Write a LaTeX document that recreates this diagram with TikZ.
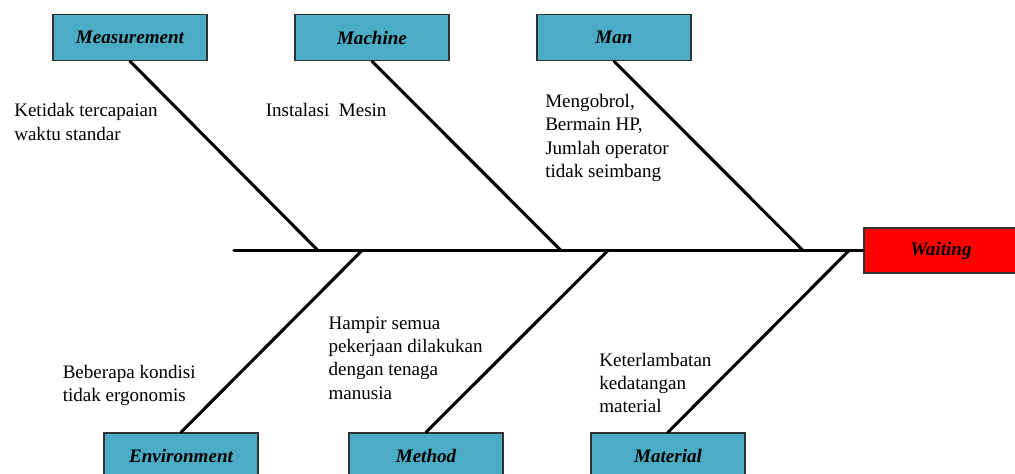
\documentclass[tikz,border=0pt]{standalone}
\usepackage{fontspec}
\setmainfont{Liberation Serif}
\definecolor{boxteal}{RGB}{75,172,198}
\definecolor{boxred}{RGB}{255,0,0}
\definecolor{boxedge}{RGB}{50,50,50}
\newcommand{\bodyfont}{\fontsize{14.3}{17.5}\selectfont}
\begin{document}
\begin{tikzpicture}[x=0.75pt,y=-0.75pt,
  catbox/.style={draw=boxedge, line width=1.1pt, fill=boxteal, minimum width=115.5pt,
    minimum height=34.5pt, inner sep=0pt, font=\fontsize{14.3}{17}\selectfont\bfseries\itshape},
  effectbox/.style={catbox, fill=boxred, minimum height=33.75pt},
  bone/.style={line width=2.3pt, line cap=round},
  cause/.style={anchor=base west, inner sep=0pt, font=\bodyfont}
]
\useasboundingbox (0,0) rectangle (1015,474);
\clip (0,0) rectangle (1015,474);
% category boxes
\node[catbox] (meas) at (130,37.5) {Measurement};
\node[catbox] (mach) at (372,37.5) {Machine};
\node[catbox] (man)  at (614,37.5) {Man};
\node[catbox] (env)  at (181,456) {Environment};
\node[catbox] (meth) at (426,456) {Method};
\node[catbox] (mat)  at (668,456) {Material};
\node[effectbox] (wait) at (941,250.5) {Waiting};
% spine
\coordinate (tail) at (234,250.5);
\draw[bone] (tail) -- (wait.west);
% junctions on spine
\coordinate (j1) at (318,250.5);
\coordinate (j2) at (561,250.5);
\coordinate (j3) at (803,250.5);
\coordinate (j4) at (362,250.5);
\coordinate (j5) at (608,250.5);
\coordinate (j6) at (849,250.5);
\draw[bone] (meas.south) -- (j1);
\draw[bone] (mach.south) -- (j2);
\draw[bone] (man.south) -- (j3);
\draw[bone] (env.north) -- (j4);
\draw[bone] (meth.north) -- (j5);
\draw[bone] (mat.north) -- (j6);
% causes
\node[cause] (c1) at (14,116.7) {\begin{tabular}[t]{@{}l@{}}Ketidak tercapaian\\ waktu standar\end{tabular}};
\node[cause] (c2) at (265.5,116.7) {Instalasi\ \ Mesin};
\node[cause] (c3) at (545,107.5) {\begin{tabular}[t]{@{}l@{}}Mengobrol,\\ Bermain HP,\\ Jumlah operator\\ tidak seimbang\end{tabular}};
\node[cause] (c4) at (328.3,329.3) {\begin{tabular}[t]{@{}l@{}}Hampir semua\\ pekerjaan dilakukan\\ dengan tenaga\\ manusia\end{tabular}};
\node[cause] (c5) at (62.5,378.3) {\begin{tabular}[t]{@{}l@{}}Beberapa kondisi\\ tidak ergonomis\end{tabular}};
\node[cause] (c6) at (599,366) {\begin{tabular}[t]{@{}l@{}}Keterlambatan\\ kedatangan\\ material\end{tabular}};
\end{tikzpicture}
\end{document}
